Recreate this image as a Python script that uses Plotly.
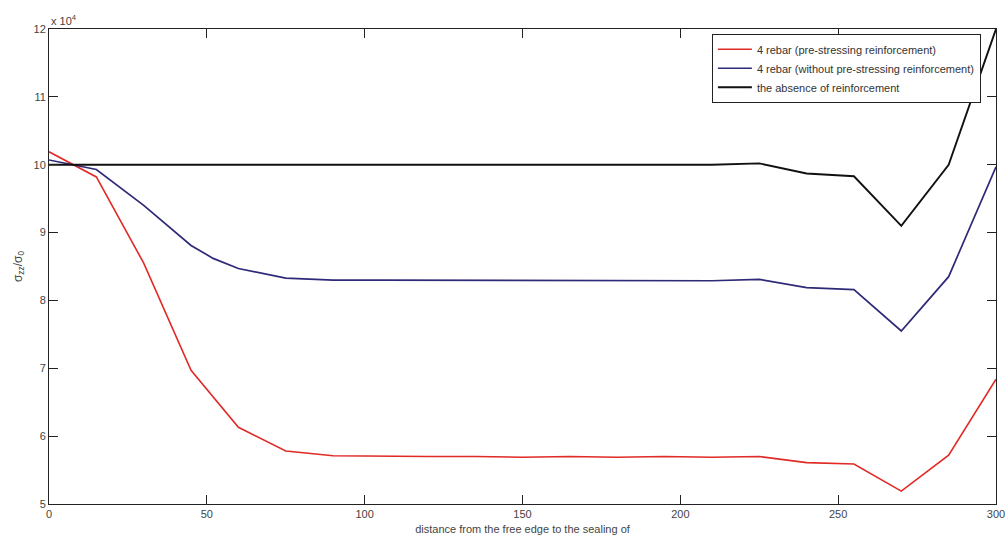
import plotly.graph_objects as go

# x positions (distance from the free edge)
x_red = [0, 15, 30, 45, 60, 75, 90, 105, 120, 135, 150, 165, 180, 195, 210, 225, 240, 255, 270, 285, 300]
y_red = [10.19, 9.82, 8.55, 6.97, 6.13, 5.78, 5.71, 5.70, 5.70, 5.70, 5.69, 5.70, 5.69, 5.70, 5.69, 5.70, 5.61, 5.59, 5.19, 5.72, 6.84]

x_blue = [0, 15, 30, 40, 45, 52, 60, 75, 90, 105, 120, 135, 150, 165, 180, 195, 210, 225, 240, 255, 270, 285, 300]
y_blue = [10.07, 9.93, 9.40, 9.00, 8.81, 8.62, 8.47, 8.33, 8.30, 8.30, 8.30, 8.30, 8.30, 8.30, 8.29, 8.30, 8.29, 8.31, 8.19, 8.16, 7.55, 8.35, 9.97]

x_black = [0, 15, 30, 45, 60, 75, 90, 105, 120, 135, 150, 165, 180, 195, 210, 225, 240, 255, 270, 285, 300]
y_black = [10.00, 10.00, 10.00, 10.00, 10.00, 10.00, 10.00, 10.00, 10.00, 10.01, 10.00, 10.00, 10.00, 10.01, 10.00, 10.02, 9.87, 9.83, 9.10, 10.00, 12.00]

series_names = [
    "4 rebar (pre-stressing reinforcement)",
    "4 rebar (without pre-stressing reinforcement)",
    "the absence of reinforcement",
]

x_ticks = [0, 50, 100, 150, 200, 250, 300]
y_ticks = [5, 6, 7, 8, 9, 10, 11, 12]

fig = go.Figure()
fig.add_trace(go.Scatter(x=x_red, y=y_red, mode="lines", name=series_names[0],
                         line=dict(color="#e02a26", width=1.6)))
fig.add_trace(go.Scatter(x=x_blue, y=y_blue, mode="lines", name=series_names[1],
                         line=dict(color="#2e2a78", width=1.7)))
fig.add_trace(go.Scatter(x=x_black, y=y_black, mode="lines", name=series_names[2],
                         line=dict(color="#111111", width=1.9)))

axis_font = dict(family="Liberation Sans, Arial, sans-serif", size=11, color="#444444")

fig.update_layout(
    width=1007, height=540,
    margin=dict(l=49, r=11, t=29, b=36, autoexpand=False),
    paper_bgcolor="white", plot_bgcolor="white",
    font=axis_font,
    showlegend=True,
    legend=dict(x=0.700, y=0.99, xanchor="left", yanchor="top",
                bgcolor="white", bordercolor="#222222", borderwidth=1,
                font=dict(family="Liberation Sans, Arial, sans-serif", size=11, color="#333333"),
                itemwidth=34, tracegroupgap=0),
    xaxis=dict(range=[0, 300], tickvals=x_ticks, ticks="inside", ticklen=9,
               showline=True, linecolor="#222222", linewidth=1, mirror="ticks",
               showgrid=False, zeroline=False, tickcolor="#222222", automargin=False,
               ticklabeloverflow="allow",
               title=dict(text="distance from the free edge to the sealing of", standoff=6,
                          font=dict(size=11, color="#444444"))),
    yaxis=dict(range=[5, 12], tickvals=y_ticks, ticks="inside", ticklen=9,
               showline=True, linecolor="#222222", linewidth=1, mirror="ticks",
               showgrid=False, zeroline=False, tickcolor="#222222", automargin=False,
               title=dict(text="σ<sub>zz</sub>/σ<sub>0</sub>", standoff=8,
                          font=dict(size=12, color="#444444"))),
)

fig.add_annotation(xref="paper", yref="paper", x=0.0, y=1.0, xanchor="left", yanchor="bottom",
                   text="x 10<sup>4</sup>", showarrow=False,
                   font=dict(family="Liberation Sans, Arial, sans-serif", size=11, color="#444444"))

# remove the default page margin so the figure fills the window exactly
fig.write_html("out.html",
               config={"displayModeBar": False},
               post_script="document.body.style.margin='0';document.body.style.overflow='hidden';")
